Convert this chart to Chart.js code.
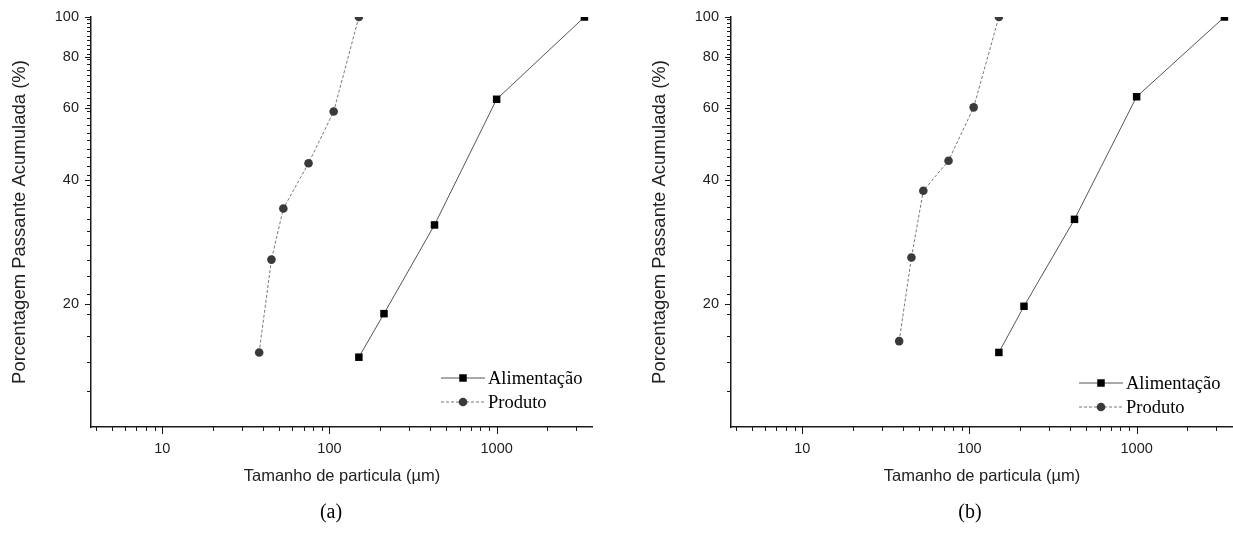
<!DOCTYPE html>
<html>
<head>
<meta charset="utf-8">
<script src="https://cdn.jsdelivr.net/npm/chart.js@4/dist/chart.umd.min.js"></script>
<style>
  body { margin: 0; background: #fff; width: 1233px; height: 543px; position: relative; overflow: hidden; }
  canvas { position: absolute; top: 0; }
  .cap { position: absolute; top: 498px; width: 100px; text-align: center; font: 20px "Liberation Serif", "Times New Roman", serif; line-height: 26px; color: #000; }
</style>
</head>
<body>
<canvas id="chartA" width="593" height="543" style="left:0px"></canvas>
<canvas id="chartB" width="593" height="543" style="left:640px"></canvas>
<div class="cap" style="left:281px">(a)</div>
<div class="cap" style="left:920px">(b)</div>
<script>
// sieve apertures (µm)
const alimSizes = [150, 212, 425, 1000, 3350];
const prodSizes = [38, 45, 53, 75, 106, 150];

// cumulative passing (%)
const alimA = [14.8, 18.9, 31.1, 63.0, 100];
const prodA = [15.2, 25.6, 34.1, 44.0, 58.8, 100];
const alimB = [15.2, 19.7, 32.1, 63.9, 100];
const prodB = [16.2, 25.9, 37.7, 44.6, 60.2, 100];

const xLabels = [10, 100, 1000];
const yLabels = [20, 40, 60, 80, 100];

const sans = '"Liberation Sans", Arial, sans-serif';
const serif = '"Liberation Serif", "Times New Roman", serif';

// minor tick positions
const xMinor = [];
[1, 10, 100, 1000].forEach(d => { for (let k = 2; k <= 9; k++) xMinor.push(k * d); });
const yMinor = [];
for (let v = 10 + 20 / 9; v < 100; v += 20 / 9) {
  if (!yLabels.some(l => Math.abs(l - v) < 0.01)) yMinor.push(v);
}

const tickMarks = {
  id: 'tickMarks',
  afterDraw(chart) {
    const ctx = chart.ctx, xs = chart.scales.x, ys = chart.scales.y, a = chart.chartArea;
    ctx.save();
    ctx.strokeStyle = '#1a1a1a';
    ctx.lineWidth = 1;
    ctx.beginPath();
    const xt = (v, len) => {
      const p = xs.getPixelForValue(v);
      if (p < a.left - 0.5 || p > a.right + 0.5) return;
      const px = Math.round(p) + 0.5;
      ctx.moveTo(px, a.bottom); ctx.lineTo(px, a.bottom + len);
    };
    const yt = (v, len) => {
      const py = Math.round(ys.getPixelForValue(v)) + 0.5;
      ctx.moveTo(a.left, py); ctx.lineTo(a.left - len, py);
    };
    xMinor.forEach(v => xt(v, 4));
    xLabels.forEach(v => xt(v, 7));
    yMinor.forEach(v => yt(v, 4));
    yLabels.forEach(v => yt(v, 6));
    ctx.stroke();
    ctx.restore();
  }
};

const lineLegend = {
  id: 'lineLegend',
  afterDraw(chart, args, opts) {
    const ctx = chart.ctx;
    chart.data.datasets.forEach((ds, i) => {
      const y = opts.rows[i];
      const x0 = opts.x;
      ctx.save();
      ctx.strokeStyle = ds.borderColor;
      ctx.lineWidth = ds.borderWidth;
      ctx.setLineDash(ds.borderDash || []);
      ctx.beginPath();
      ctx.moveTo(x0, y); ctx.lineTo(x0 + 44, y);
      ctx.stroke();
      ctx.setLineDash([]);
      ctx.fillStyle = ds.pointBackgroundColor;
      ctx.beginPath();
      if (ds.pointStyle === 'rect') {
        const s = ds.pointRadius * Math.SQRT1_2;
        ctx.rect(x0 + 22 - s, y - s, 2 * s, 2 * s);
      } else {
        ctx.arc(x0 + 22, y, ds.pointRadius, 0, Math.PI * 2);
      }
      ctx.fill();
      ctx.fillStyle = '#000';
      ctx.font = '18.5px ' + serif;
      ctx.textBaseline = 'middle';
      ctx.textAlign = 'left';
      ctx.fillText(ds.label, x0 + 47, y + 1);
      ctx.restore();
    });
  }
};

function makeChart(id, alim, prod, legendX, legendRows) {
  return new Chart(document.getElementById(id), {
    type: 'line',
    data: {
      datasets: [
        {
          label: 'Alimentação',
          data: alimSizes.map((s, i) => ({ x: s, y: alim[i] })),
          borderColor: '#555',
          borderWidth: 1,
          pointStyle: 'rect',
          pointRadius: 5.3,
          pointBorderWidth: 0,
          pointBackgroundColor: '#000',
          tension: 0,
          clip: 0
        },
        {
          label: 'Produto',
          data: prodSizes.map((s, i) => ({ x: s, y: prod[i] })),
          borderColor: '#777',
          borderWidth: 1,
          borderDash: [3, 2],
          pointStyle: 'circle',
          pointRadius: 4.3,
          pointBorderWidth: 0,
          pointBackgroundColor: '#3a3a3a',
          tension: 0,
          clip: 0
        }
      ]
    },
    options: {
      responsive: false,
      animation: false,
      layout: { autoPadding: false, padding: { top: 17, right: 0, left: 0, bottom: 0 } },
      plugins: {
        legend: { display: false },
        tooltip: { enabled: false },
        lineLegend: { x: legendX, rows: legendRows }
      },
      scales: {
        x: {
          type: 'logarithmic',
          min: 3.75,
          max: 3770,
          bounds: 'data',
          afterBuildTicks: s => { s.ticks = xLabels.map(v => ({ value: v })); },
          afterFit: s => { s.height = 116; s.paddingLeft = 0; s.paddingRight = 0; },
          grid: { display: false, drawTicks: false },
          border: { display: true, color: '#1a1a1a', width: 1.5 },
          ticks: {
            autoSkip: false, maxRotation: 0, padding: 13,
            color: '#222', font: { family: sans, size: 14.5 },
            callback: v => String(v)
          },
          title: {
            display: true, text: 'Tamanho de particula (µm)', color: '#222',
            font: { family: sans, size: 16.5 }, padding: { top: 0, bottom: 57 }
          }
        },
        y: {
          type: 'logarithmic',
          min: 10,
          max: 100,
          bounds: 'data',
          afterBuildTicks: s => { s.ticks = yLabels.map(v => ({ value: v })); },
          afterFit: s => { s.width = 91; s.paddingTop = 0; s.paddingBottom = 0; },
          grid: { display: false, drawTicks: false },
          border: { display: true, color: '#1a1a1a', width: 1.5 },
          ticks: {
            autoSkip: false, padding: 12,
            color: '#222', font: { family: sans, size: 14.5 },
            callback: v => String(v)
          },
          title: {
            display: true, text: 'Porcentagem Passante Acumulada (%)', color: '#222',
            font: { family: sans, size: 18.5 }, padding: { top: 9, bottom: 0 }
          }
        }
      }
    },
    plugins: [tickMarks, lineLegend]
  });
}

makeChart('chartA', alimA, prodA, 441, [378, 402]);
makeChart('chartB', alimB, prodB, 439, [383, 407]);
</script>
</body>
</html>
